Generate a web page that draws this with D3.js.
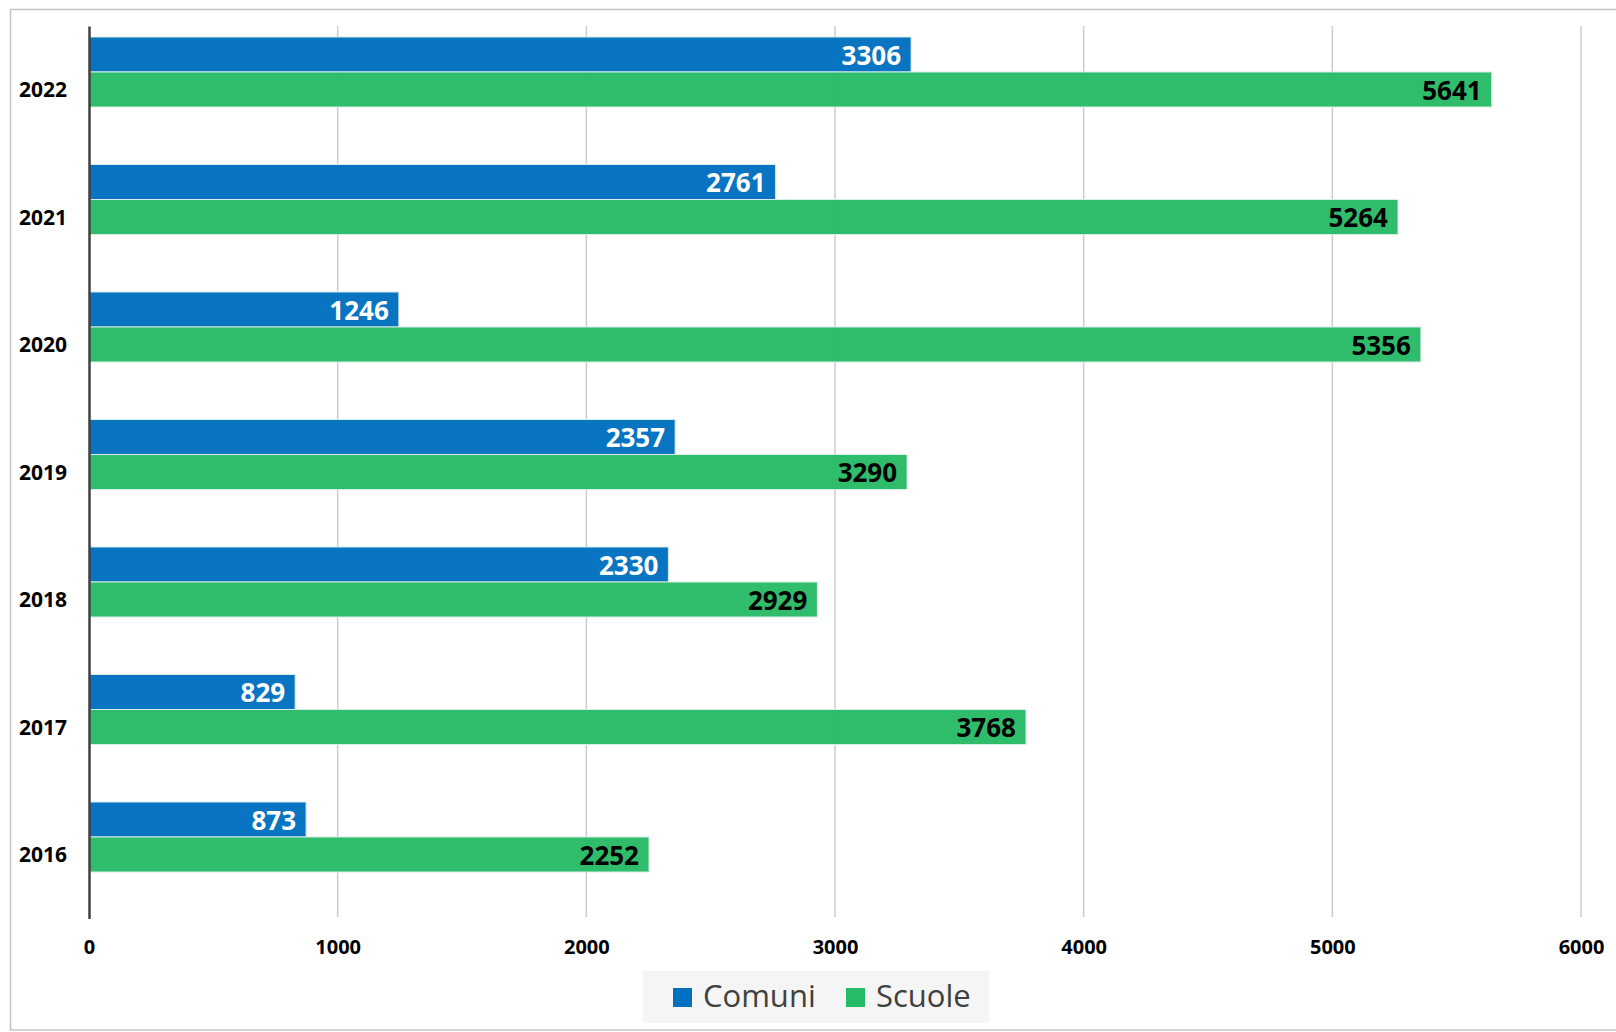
<!DOCTYPE html>
<html><head><meta charset="utf-8">
<script src="https://cdn.jsdelivr.net/npm/d3@7"></script>
<style>body{margin:0;background:#fff}svg{display:block}</style>
</head><body>
<svg id="c" width="1616" height="1032"></svg>
<script>
const years = ["2022","2021","2020","2019","2018","2017","2016"];
const seriesNames = ["Comuni","Scuole"];
const comuni = [3306,2761,1246,2357,2330,829,873];
const scuole = [5641,5264,5356,3290,2929,3768,2252];
const xTicks = [0,1000,2000,3000,4000,5000,6000];
const colors = {Comuni:"#0070C0", Scuole:"#28BB67"};
const labelColors = {Comuni:"#ffffff", Scuole:"#000000"};
const values = {Comuni:comuni, Scuole:scuole};

const font = "'Open Sans', 'Liberation Sans', sans-serif";
const svg = d3.select("#c");
svg.append("rect").attr("x",10.5).attr("y",9.5).attr("width",1620).attr("height",1020.5)
  .attr("fill","#fff").attr("stroke","#c4c4c4").attr("stroke-width",1.5);

const x = d3.scaleLinear().domain([0,6000]).range([89,1581]);
const y = d3.scaleBand().domain(years).range([26,918.5]).padding(0);
const inner = d3.scaleBand().domain(seriesNames).range([11,81]).padding(0);

// gridlines
svg.append("g").selectAll("line").data(xTicks.slice(1)).join("line")
  .attr("x1",d=>x(d)).attr("x2",d=>x(d)).attr("y1",26).attr("y2",917)
  .attr("stroke","#cccccc").attr("stroke-width",1.5);

// bars
const g = svg.append("g");
seriesNames.forEach(s=>{
  const gs = g.append("g");
  gs.selectAll("rect").data(years).join("rect")
    .attr("x",x(0)).attr("y",(d)=>y(d)+inner(s))
    .attr("width",(d,i)=>x(values[s][i])-x(0))
    .attr("height",inner.bandwidth())
    .attr("fill",colors[s]).attr("fill-opacity",0.97)
    .attr("stroke","#d8ece8").attr("stroke-width",1);
  gs.selectAll("text").data(years).join("text")
    .attr("x",(d,i)=>x(values[s][i])-10)
    .attr("y",(d)=>y(d)+inner(s)+inner.bandwidth()/2+1)
    .attr("dy","0.35em").attr("text-anchor","end")
    .attr("font-family",font).attr("font-weight","bold").attr("font-size",26)
    .attr("fill",labelColors[s])
    .text((d,i)=>values[s][i]);
});

// y axis
const yAxis = d3.axisLeft(y).tickSize(0).tickPadding(22);
const ya = svg.append("g").attr("transform",`translate(${x(0)},0)`).call(yAxis);
ya.select(".domain").attr("stroke","#404040").attr("stroke-width",2.5);
ya.selectAll("text").attr("font-family",font).attr("font-weight","bold").attr("font-size",21).attr("fill","#000")
  .attr("dy","0.35em");

// x axis
const xAxis = d3.axisBottom(x).tickValues(xTicks).tickSize(0).tickPadding(0).tickFormat(d3.format("d"));
const xa = svg.append("g").attr("transform","translate(0,947)").call(xAxis);
xa.select(".domain").remove();
xa.selectAll("text").attr("font-family",font).attr("font-weight","bold").attr("font-size",20).attr("fill","#000").attr("dy","0.35em");

// legend
const lg = svg.append("g");
lg.append("rect").attr("x",643).attr("y",971).attr("width",346).attr("height",52).attr("fill","#f5f5f5");
const legendPos = [{s:"Comuni",x:673},{s:"Scuole",x:846}];
legendPos.forEach(p=>{
  lg.append("rect").attr("x",p.x).attr("y",988).attr("width",19).attr("height",19).attr("fill",colors[p.s]);
  lg.append("text").attr("x",p.x+30).attr("y",996).attr("dy","0.35em")
    .attr("font-family",font).attr("font-size",31).attr("fill","#404040").text(p.s);
});
</script>
</body></html>
